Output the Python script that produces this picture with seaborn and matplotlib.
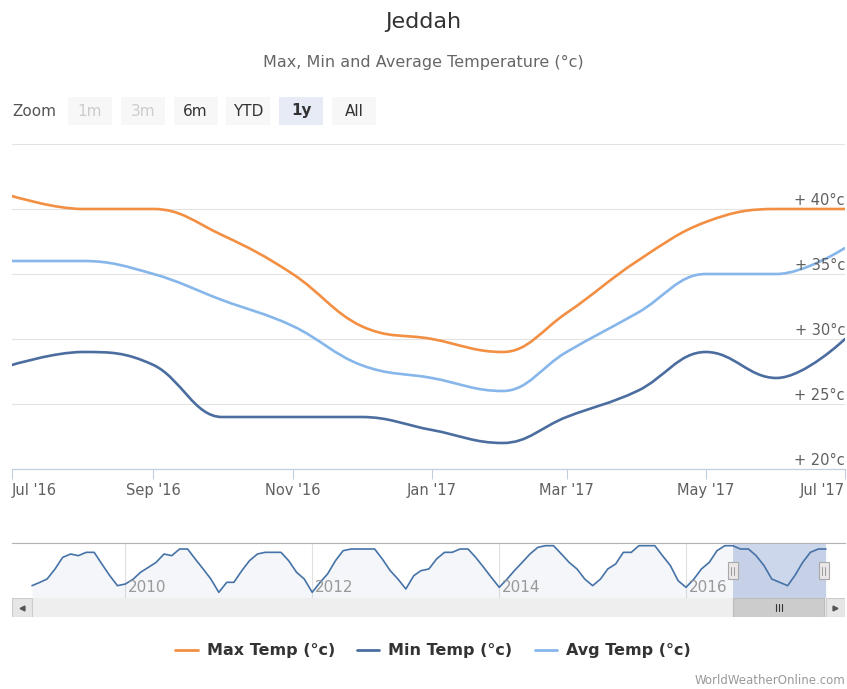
import numpy as np
import pandas as pd
import seaborn as sns
import matplotlib.pyplot as plt
import matplotlib.dates as mdates
import matplotlib.transforms as mtransforms
from matplotlib.path import Path
from matplotlib.patches import PathPatch, Rectangle
from matplotlib.lines import Line2D

# ---- data ----
months = pd.date_range("2016-07-01", "2017-07-01", freq="MS")
max_temp = [41, 40, 40, 38, 35, 31, 30, 29, 32, 36, 39, 40, 40]
min_temp = [28, 29, 28, 24, 24, 24, 23, 22, 24, 26, 29, 27, 30]
avg_temp = [36, 36, 35, 33, 31, 28, 27, 26, 29, 32, 35, 35, 37]

# navigator: monthly max temp Jan 2009 - Jun 2016 (continues with max_temp)
nav_months = pd.date_range("2009-01-01", "2016-06-01", freq="MS")
nav_max = [
    29, 30, 31, 34, 37.5, 38.5, 38, 39, 39, 35.5, 32, 29,          # 2009
    29.5, 31, 33, 34.5, 36, 38.5, 38, 40, 40, 37, 34, 31,          # 2010
    27, 30, 30, 33.5, 36.5, 38.5, 39, 39, 39, 36.5, 33, 31,        # 2011
    27, 30, 32.5, 36.5, 39.5, 40, 40, 40, 40, 37, 33.5, 31,        # 2012
    28, 32, 33.5, 34, 37, 39, 39, 40, 40, 37.5, 34.5, 31.5,        # 2013
    28.5, 31, 33.5, 36, 38.5, 40.5, 41, 41, 38.5, 36, 34, 31,      # 2014
    29, 31, 34, 35.5, 39, 39, 41, 41, 41, 38, 35, 30.5,            # 2015
    28.5, 31, 34, 36, 39.5, 41,                                    # 2016
]

series_names = ["Max Temp (°c)", "Min Temp (°c)", "Avg Temp (°c)"]
series_colors = ["#f28f43", "#4b6d9f", "#86b6ea"]
y_ticks = [20, 25, 30, 35, 40, 45]
y_labels = [20, 25, 30, 35, 40]
nav_years = ["2010", "2012", "2014", "2016"]
zoom_buttons = ["1m", "3m", "6m", "YTD", "1y", "All"]

sns.set_theme(style="white")
plt.rcParams["font.family"] = ["DejaVu Sans"]

W, H = 847, 689
fig = plt.figure(figsize=(W / 100, H / 100), dpi=100)


def box(x0, y0, x1, y1):
    return [x0 / W, 1 - y1 / H, (x1 - x0) / W, (y1 - y0) / H]


def spline_path(x, y, smoothing=1.5):
    # highcharts style spline -> cubic bezier path
    x = np.asarray(x, float)
    y = np.asarray(y, float)
    n = len(x)
    lc = [None] * n
    rc = [None] * n
    d = smoothing + 1
    for i in range(1, n - 1):
        px, py = x[i], y[i]
        lx, ly = x[i - 1], y[i - 1]
        nx, ny = x[i + 1], y[i + 1]
        lcx = (smoothing * px + lx) / d
        lcy = (smoothing * py + ly) / d
        rcx = (smoothing * px + nx) / d
        rcy = (smoothing * py + ny) / d
        if rcx != lcx:
            corr = (rcy - lcy) * (rcx - px) / (rcx - lcx) + py - rcy
            lcy += corr
            rcy += corr
        if lcy > ly and lcy > py:
            lcy = max(ly, py)
            rcy = 2 * py - lcy
        elif lcy < ly and lcy < py:
            lcy = min(ly, py)
            rcy = 2 * py - lcy
        if rcy > ny and rcy > py:
            rcy = max(ny, py)
            lcy = 2 * py - rcy
        elif rcy < ny and rcy < py:
            rcy = min(ny, py)
            lcy = 2 * py - rcy
        lc[i] = (lcx, lcy)
        rc[i] = (rcx, rcy)
    verts = [(x[0], y[0])]
    codes = [Path.MOVETO]
    for i in range(1, n):
        c1 = rc[i - 1] if rc[i - 1] is not None else (x[i - 1], y[i - 1])
        c2 = lc[i] if lc[i] is not None else (x[i], y[i])
        verts += [c1, c2, (x[i], y[i])]
        codes += [Path.CURVE4] * 3
    return Path(verts, codes)


# ---- main chart ----
ax = fig.add_axes(box(12, 144, 845, 469))
xnum = mdates.date2num(months)
for vals, color in zip([max_temp, min_temp, avg_temp], series_colors):
    ax.add_patch(PathPatch(spline_path(xnum, vals), fill=False, edgecolor=color,
                           lw=1.9, capstyle="round", joinstyle="round", zorder=3))

ax.set_xlim(xnum[0], xnum[-1])
ax.set_ylim(20, 45)
ax.set_yticks(y_ticks)
ax.set_yticklabels([])
ax.tick_params(axis="y", length=0)
ax.grid(axis="y", color="#e3e3e3", lw=0.8)
ax.grid(axis="x", visible=False)
for s in ["top", "left", "right"]:
    ax.spines[s].set_visible(False)
ax.spines["bottom"].set_color("#c0d0e0")
ax.spines["bottom"].set_linewidth(0.9)

tick_dates = months[::2]
ax.set_xticks(mdates.date2num(tick_dates))
ax.set_xticklabels([d.strftime("%b '%y") for d in tick_dates])
ax.tick_params(axis="x", direction="out", length=7, width=0.8, color="#c0d0e0",
               labelsize=10.5, labelcolor="#606060", pad=3, bottom=True)
xt = ax.get_xticklabels()
xt[0].set_ha("left")
xt[-1].set_ha("right")

lab_tr = mtransforms.offset_copy(ax.get_yaxis_transform(), fig=fig, x=0, y=1, units="points")
for v in y_labels:
    ax.text(1.0, v, f"+ {v}°c", transform=lab_tr, ha="right", va="bottom",
            fontsize=10.5, color="#606060")

# ---- navigator ----
nav = fig.add_axes(box(12, 543, 845, 598))
scr = fig.add_axes(box(12, 598, 845, 617), sharex=nav)

nav_df = pd.DataFrame({
    "date": list(nav_months) + list(months),
    "temp": nav_max + max_temp,
})
d0 = mdates.date2num(nav_df["date"].iloc[0])
d1 = mdates.date2num(nav_df["date"].iloc[-1])
k = (d1 - d0) / (826 - 32)
nav.set_xlim(d0 - 20 * k, d1 + 19 * k)
nav.set_ylim(25.3, 41.8)

nav.fill_between(mdates.date2num(nav_df["date"]), nav_df["temp"], 25.3,
                 color=(69 / 255, 114 / 255, 167 / 255), alpha=0.06, lw=0)
sns.lineplot(data=nav_df, x=mdates.date2num(nav_df["date"]), y="temp", ax=nav,
             color="#4572a7", lw=1.2, legend=False)
nav.set_xlabel("")
nav.set_ylabel("")
nav.set_xticks([])
nav.set_yticks([])
for s in ["left", "right", "bottom"]:
    nav.spines[s].set_visible(False)
nav.spines["top"].set_color("#b2b1b6")
nav.spines["top"].set_linewidth(0.8)

yr_tr = mtransforms.offset_copy(nav.get_xaxis_transform(), fig=fig, x=2, y=0, units="points")
for yr in nav_years:
    xv = mdates.date2num(pd.Timestamp(f"{yr}-01-01"))
    nav.axvline(xv, color="#e0e0e0", lw=0.8, zorder=0)
    nav.text(xv, 0.2, yr, transform=yr_tr, ha="left", va="center",
             fontsize=11, color="#999999")

w0, w1 = xnum[0], xnum[-1]
nav.axvspan(w0, w1, color=(102 / 255, 133 / 255, 194 / 255), alpha=0.32, lw=0, zorder=1)
ht = nav.get_xaxis_transform()
for e in [w0, w1 - 2 * k]:
    nav.add_patch(Rectangle((e - 5 * k, 0.34), 10 * k, 0.31, transform=ht,
                            facecolor="#ebe7e8", edgecolor="#a9a9a9", lw=0.8, zorder=4))
    for off in [-1.5, 1.5]:
        nav.add_line(Line2D([e + off * k, e + off * k], [0.42, 0.57], transform=ht,
                            color="#999999", lw=0.7, zorder=5))

# ---- scrollbar ----
scr.set_ylim(0, 1)
xl0, xl1 = nav.get_xlim()
scr.add_patch(Rectangle((xl0, 0), xl1 - xl0, 1, facecolor="#eeeeee", lw=0))
scr.add_patch(Rectangle((xl0, 0.02), d0 - xl0, 0.96, facecolor="#e6e6e6",
                        edgecolor="#cccccc", lw=0.8))
scr.add_patch(Rectangle((d1, 0.02), xl1 - d1, 0.96, facecolor="#e6e6e6",
                        edgecolor="#cccccc", lw=0.8))
scr.plot([(xl0 + d0) / 2], [0.5], marker="<", ms=3.5, color="#555555", lw=0)
scr.plot([(xl1 + d1) / 2], [0.5], marker=">", ms=3.5, color="#555555", lw=0)
scr.add_patch(Rectangle((w0, 0.02), w1 - w0 - 2 * k, 0.96, facecolor="#cccccc",
                        edgecolor="#bbbbbb", lw=0.8))
mid = (w0 + w1) / 2
for off in [-3, 0, 3]:
    scr.plot([mid + off * k, mid + off * k], [0.33, 0.67], color="#333333", lw=0.8)
scr.set_xticks([])
scr.set_yticks([])
for s in scr.spines.values():
    s.set_visible(False)
scr.set_xlim(xl0, xl1)

# ---- titles, zoom buttons, legend, credits ----
fig.text(0.5, 1 - 22 / H, "Jeddah", ha="center", va="center", fontsize=16, color="#333333")
fig.text(0.5, 1 - 62 / H, "Max, Min and Average Temperature (°c)", ha="center",
         va="center", fontsize=11.5, color="#666666")

fig.text(12 / W, 1 - 111 / H, "Zoom", ha="left", va="center", fontsize=11, color="#555555")
for i, lab in enumerate(zoom_buttons):
    x0 = 68 + 52.8 * i
    selected = lab == "1y"
    disabled = lab in ("1m", "3m")
    fig.add_artist(Rectangle((x0 / W, 1 - 125 / H), 44 / W, 28 / H, transform=fig.transFigure,
                             facecolor="#e6ebf5" if selected else "#f7f7f7", lw=0))
    fig.text((x0 + 22) / W, 1 - 111 / H, lab, ha="center", va="center", fontsize=11,
             color="#cccccc" if disabled else "#333333",
             fontweight="bold" if selected else "normal")

handles = [Line2D([], [], color=c, lw=2) for c in series_colors]
fig.legend(handles, series_names, loc="center", bbox_to_anchor=(433 / W, 1 - 651 / H),
           ncol=3, frameon=False, handlelength=1.4, handletextpad=0.55, columnspacing=1.4,
           prop={"size": 11.5, "weight": "bold"}, labelcolor="#333333")

fig.text(845 / W, 1 - 681 / H, "WorldWeatherOnline.com", ha="right", va="center",
         fontsize=8.5, color="#999999")

fig.savefig("out.png", dpi=100)
